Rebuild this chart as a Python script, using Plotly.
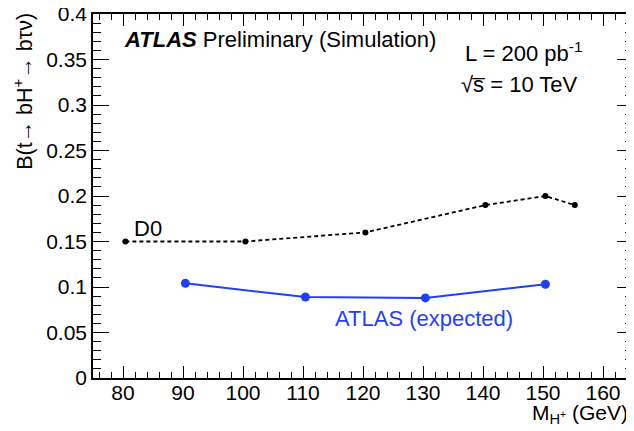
import plotly.graph_objects as go

# Data
d0_mass = [80.4, 100.4, 120.4, 140.4, 150.4, 155.3]
d0_br = [0.150, 0.150, 0.160, 0.190, 0.200, 0.190]
atlas_mass = [90.4, 110.4, 130.4, 150.4]
atlas_br = [0.104, 0.089, 0.088, 0.103]

FONT = "Liberation Sans, Arial, Helvetica, sans-serif"
BLUE = "#1f3fff"

fig = go.Figure()
fig.add_trace(go.Scatter(x=d0_mass, y=d0_br, mode="lines+markers",
                         line=dict(color="black", width=1.8, dash="4px,3px"),
                         marker=dict(color="black", size=6), showlegend=False))
fig.add_trace(go.Scatter(x=atlas_mass, y=atlas_br, mode="lines+markers",
                         line=dict(color=BLUE, width=2),
                         marker=dict(color=BLUE, size=9), showlegend=False))

axis_common = dict(showgrid=False, zeroline=False, showline=True, linecolor="black",
                   linewidth=1.5, ticks="inside", tickcolor="black", tickwidth=1.2,
                   automargin=False, ticklabeloverflow="allow")

fig.update_layout(
    width=626, height=423,
    margin=dict(l=85, r=1, t=6, b=53),
    plot_bgcolor="white", paper_bgcolor="white",
    font=dict(family=FONT, size=21, color="black"),
    xaxis=dict(range=[75, 165], dtick=10, tick0=80, ticklen=12, ticklabelstandoff=-5,
               minor=dict(dtick=2, ticklen=6, ticks="inside", tickcolor="black"),
               **axis_common),
    yaxis=dict(range=[0, 0.4], dtick=0.05, ticklen=16, tickformat="~g",
               minor=dict(dtick=0.01, ticklen=8, ticks="inside", tickcolor="black"),
               **axis_common),
    xaxis2=dict(overlaying="x", side="top", matches="x", range=[75, 165], dtick=10, tick0=80,
                ticklen=12, showticklabels=False,
                minor=dict(dtick=2, ticklen=6, ticks="inside", tickcolor="black"),
                **axis_common),
    yaxis2=dict(overlaying="y", side="right", matches="y", range=[0, 0.4], dtick=0.05,
                ticklen=16, showticklabels=False,
                minor=dict(dtick=0.01, ticklen=8, ticks="inside", tickcolor="black"),
                **axis_common),
)
# invisible trace to activate mirror axes
fig.add_trace(go.Scatter(x=[75], y=[0], xaxis="x2", yaxis="y2", mode="markers",
                         marker=dict(opacity=0), showlegend=False, hoverinfo="skip"))

ann = [
    dict(text="M<sub>H<sup>+</sup></sub> (GeV)", xref="paper", yref="paper", x=1.0, y=-0.1,
         xanchor="right", yanchor="middle", xshift=-3, showarrow=False, font=dict(size=21)),
    dict(text="B(t→ bH<sup>+</sup>→ bτν)", xref="paper", yref="paper", x=-0.131, y=1.008,
         xanchor="center", yanchor="top", textangle=-90, showarrow=False, font=dict(size=21.5)),
    dict(text="<b><i>ATLAS</i></b> Preliminary (Simulation)", xref="paper", yref="paper",
         x=0.054, y=0.929, xanchor="left", yanchor="middle", showarrow=False, font=dict(size=22)),
    dict(text="L = 200 pb<sup>-1</sup>", xref="paper", yref="paper",
         x=0.685, y=0.895, xanchor="left", yanchor="middle", showarrow=False, font=dict(size=22)),
    dict(text="√s̅ = 10 TeV", xref="paper", yref="paper",
         x=0.678, y=0.805, xanchor="left", yanchor="middle", showarrow=False, font=dict(size=22)),
    dict(text="D0", x=81.5, y=0.164, xanchor="left", yanchor="middle", showarrow=False,
         font=dict(size=22)),
    dict(text="ATLAS (expected)", x=115, y=0.065, xanchor="left", yanchor="middle",
         showarrow=False, font=dict(size=22, color=BLUE)),
]
fig.update_layout(annotations=ann)

fig.write_html("out.html")
